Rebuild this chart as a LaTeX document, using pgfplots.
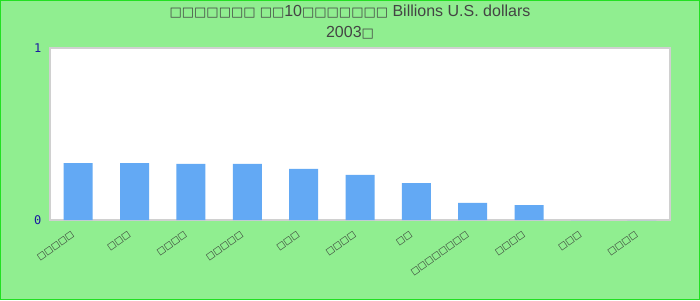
\documentclass[border=0pt]{standalone}
\usepackage{fontspec}
\setmainfont{Liberation Sans}
\newfontfamily\boxfont{DejaVu Sans}
\newfontfamily\tickfont{DejaVu Sans Mono}
\usepackage{pgfplots}
\pgfplotsset{compat=1.18}
\definecolor{bg}{HTML}{90EE90}
\definecolor{bordergreen}{HTML}{22E022}
\definecolor{barblue}{HTML}{63A9F4}
\definecolor{ticknavy}{HTML}{1A1AA0}
\definecolor{titlegray}{HTML}{444444}
\definecolor{axisgray}{HTML}{D0D0D0}
\newcommand{\bx}[1]{{\boxfont\foreach\i in {1,...,#1}{□}}}
\newcommand{\tb}[1]{{\boxfont\fontsize{13}{16}\selectfont #1}}
\begin{document}
\begin{tikzpicture}
\useasboundingbox (0pt,0pt) rectangle (700pt,300pt);
\path[fill=bg,draw=bordergreen,line width=1pt] (0.5pt,0.5pt) rectangle (699.5pt,299.5pt);
\begin{axis}[
  at={(50pt,80pt)}, anchor=south west,
  scale only axis, width=620pt, height=172pt,
  xmin=-0.5, xmax=10.5, ymin=0, ymax=1,
  axis background/.style={fill=white},
  axis line style={axisgray, line width=1.2pt},
  ytick={0,1}, yticklabels={0,1},
  /pgf/number format/assume math mode=true,
  yticklabel style={text=ticknavy, font=\tickfont\fontsize{12}{12}\selectfont, xshift=-5pt},
  xtick=data,
  xticklabels={\bx{5},\bx{3},\bx{4},\bx{5},\bx{3},\bx{4},\bx{2},\bx{8},\bx{4},\bx{3},\bx{4}},
  xticklabel style={xshift=-7pt, yshift=-11pt, rotate=35, anchor=north east, font=\fontsize{9}{10}\selectfont, text=black!80, inner sep=0pt},
  major tick length=0pt,
  ybar, bar width=29pt,
]
\addplot[fill=barblue, draw=none] coordinates {
(0,0.331) (1,0.331) (2,0.326) (3,0.326) (4,0.297) (5,0.262) (6,0.215) (7,0.099) (8,0.087) (9,0) (10,0)};
\end{axis}
\node[text=titlegray,font=\fontsize{16}{19}\selectfont] at (350pt,288pt) {\tb{□□□□□□□ □□}10\tb{□□□□□□□} Billions U.S. dollars};
\node[text=titlegray,font=\fontsize{16}{19}\selectfont] at (350pt,267pt) {2003\tb{□}};
\end{tikzpicture}
\end{document}
